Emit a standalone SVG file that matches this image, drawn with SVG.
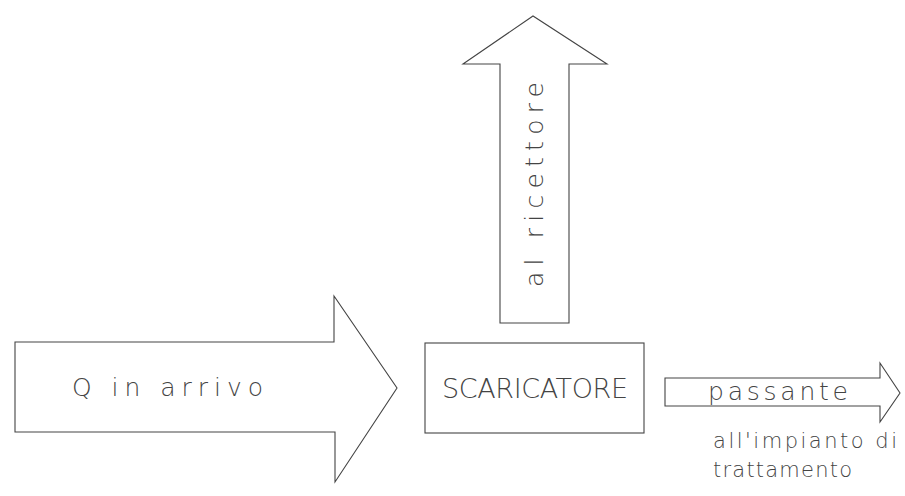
<svg xmlns="http://www.w3.org/2000/svg" width="905" height="496" viewBox="0 0 905 496">
<style>
.sh{fill:#fff;stroke:#444;stroke-width:1.1;stroke-linejoin:miter}
.t{font-family:"DejaVu Sans","Liberation Sans",sans-serif;font-weight:200;fill:#444}
</style>
<rect width="905" height="496" fill="#fff"/>
<g id="connectors">
<g id="arrow-arrivo">
<polygon class="sh" points="15,342 334,342 334,296 397,388 335,482 335,432 15,432"/>
<text class="t" x="72" y="396" font-size="25" textLength="191" lengthAdjust="spacing">Q in arrivo</text>
</g>
<g id="arrow-ricettore">
<polygon class="sh" points="500,323 500,64 463,64 533,16 607,64 569,64 569,323"/>
<text class="t" font-size="25" textLength="205" lengthAdjust="spacing" transform="translate(543,287) rotate(-90)">al ricettore</text>
</g>
<g id="arrow-passante">
<polygon class="sh" points="665,378 880,378 880,363 900,393 880,422 880,406 665,406"/>
<text class="t" x="708" y="400" font-size="25" textLength="140" lengthAdjust="spacing">passante</text>
</g>
</g>
<g id="scaricatore">
<rect class="sh" x="425" y="343" width="219" height="90"/>
<text class="t" x="442" y="398" font-size="27" textLength="186" lengthAdjust="spacing">SCARICATORE</text>
</g>
<g id="label-impianto">
<text class="t" x="713" y="448" font-size="21" textLength="184" lengthAdjust="spacing">all'impianto di</text>
<text class="t" x="713" y="477" font-size="21" textLength="139" lengthAdjust="spacing">trattamento</text>
</g>
</svg>
